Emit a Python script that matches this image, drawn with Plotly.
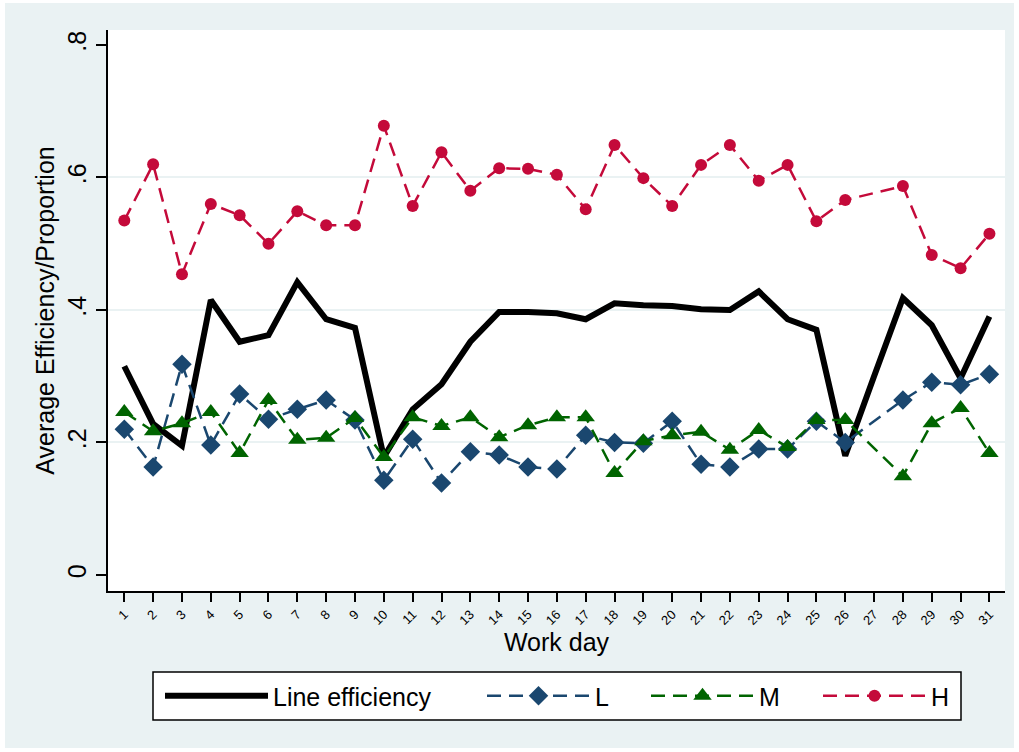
import plotly.graph_objects as go

days = list(range(1, 32))
day_labels = [str(d) for d in days]

line_eff = [0.315, 0.228, 0.195, 0.415, 0.352, 0.362, 0.442, 0.386, 0.373, 0.178,
            0.250, 0.288, 0.352, 0.397, 0.397, 0.395, 0.386, 0.410, 0.407, 0.406,
            0.401, 0.400, 0.428, 0.386, 0.370, 0.180, 0.300, 0.418, 0.377, 0.297, 0.390]
L_vals = [0.220, 0.163, 0.318, 0.196, 0.273, 0.235, 0.250, 0.264, 0.234, 0.143,
          0.205, 0.139, 0.186, 0.181, 0.163, 0.160, 0.211, 0.200, 0.199, 0.232,
          0.167, 0.163, 0.190, 0.190, 0.232, 0.200, None, 0.264, 0.291, 0.287, 0.303]
M_vals = [0.246, 0.217, 0.229, 0.246, 0.184, 0.264, 0.204, 0.207, 0.237, 0.178,
          0.238, 0.225, 0.238, 0.208, 0.226, 0.238, 0.238, 0.154, 0.202, 0.211,
          0.216, 0.189, 0.219, 0.193, 0.234, 0.234, None, 0.149, 0.229, 0.252, 0.184]
H_vals = [0.535, 0.620, 0.454, 0.560, 0.543, 0.500, 0.549, 0.528, 0.528, 0.678,
          0.557, 0.638, 0.580, 0.614, 0.613, 0.604, 0.552, 0.649, 0.599, 0.557,
          0.619, 0.649, 0.595, 0.619, 0.534, 0.566, None, 0.587, 0.483, 0.463, 0.515]

y_ticks = [0, 0.2, 0.4, 0.6, 0.8]
y_labels = ["0", ".2", ".4", ".6", ".8"]
grid_vals = [0.2, 0.4, 0.6]

FONT = "Liberation Sans, Arial, sans-serif"
BG = "#EAF2F3"
NAVY = "#1A476F"
GREEN = "#006400"
RED = "#C40A3A"

W, H = 1019, 752
ml, mr, mt, mb = 108, 14, 30, 161
pw, ph = W - ml - mr, H - mt - mb


def px_x(p):
    return (p - ml) / pw


def px_y(p):
    return (mt + ph - p) / ph


fig = go.Figure()
fig.add_trace(go.Scatter(x=days, y=line_eff, name="Line efficiency", mode="lines",
                         line=dict(color="black", width=6), legend="legend"))
fig.add_trace(go.Scatter(x=days, y=L_vals, name="L", mode="lines+markers", connectgaps=True,
                         line=dict(color=NAVY, width=2.5, dash="14px,8px"),
                         marker=dict(symbol="diamond", size=15, color=NAVY), legend="legend2"))
fig.add_trace(go.Scatter(x=days, y=M_vals, name="M", mode="lines+markers", connectgaps=True,
                         line=dict(color=GREEN, width=2.5, dash="14px,8px"),
                         marker=dict(symbol="triangle-up", size=16, color=GREEN), legend="legend3"))
fig.add_trace(go.Scatter(x=days, y=H_vals, name="H", mode="lines+markers", connectgaps=True,
                         line=dict(color=RED, width=2.5, dash="14px,8px"),
                         marker=dict(symbol="circle", size=12, color=RED), legend="legend4"))


def leg(px):
    return dict(orientation="h", x=px_x(px), xanchor="left", y=px_y(673), yanchor="top",
                bgcolor="rgba(0,0,0,0)", borderwidth=0,
                font=dict(size=25, family=FONT, color="black"), itemwidth=103)


fig.update_layout(
    width=W, height=H,
    margin=dict(l=ml, r=mr, t=mt, b=mb, autoexpand=False),
    paper_bgcolor="white", plot_bgcolor="white",
    font=dict(family=FONT, color="black"),
    showlegend=True,
    legend=leg(160), legend2=leg(482), legend3=leg(646), legend4=leg(818),
    shapes=[
        dict(type="rect", xref="paper", yref="paper", layer="below",
             x0=px_x(5), x1=px_x(W - 5), y0=px_y(H - 4), y1=px_y(3),
             fillcolor=BG, line=dict(width=0)),
        dict(type="rect", xref="paper", yref="paper", layer="below",
             x0=0, x1=1, y0=0, y1=1, fillcolor="white", line=dict(width=0)),
        dict(type="rect", xref="paper", yref="paper", layer="below",
             x0=px_x(153), x1=px_x(961), y0=px_y(720), y1=px_y(672),
             fillcolor="white", line=dict(color="black", width=1.5)),
    ],
)

fig.update_xaxes(
    range=[0.435, 31.54], tickmode="array", tickvals=days, ticktext=day_labels,
    tickangle=-45, tickfont=dict(size=13, family=FONT),
    ticks="outside", ticklen=9, tickwidth=1.5, tickcolor="black",
    showline=True, linecolor="black", linewidth=1.5, showgrid=False, zeroline=False,
    title=dict(text="Work day", font=dict(size=25, family=FONT), standoff=7),
)
fig.update_yaxes(
    range=[-0.0242, 0.8226], tickmode="array", tickvals=y_ticks, ticktext=y_labels,
    tickangle=-90, tickfont=dict(size=25, family=FONT),
    ticks="outside", ticklen=10, tickwidth=1.5, tickcolor="black",
    showline=True, linecolor="black", linewidth=1.5, showgrid=False, zeroline=False,
    minor=dict(tickmode="array", tickvals=grid_vals, showgrid=True, gridcolor=BG,
               gridwidth=2, ticks=""),
    title=dict(text="Average Efficiency/Proportion", font=dict(size=25, family=FONT), standoff=2),
)

fig.write_html("out.html", config={"displayModeBar": False},
               post_script="document.body.style.margin='0';")
